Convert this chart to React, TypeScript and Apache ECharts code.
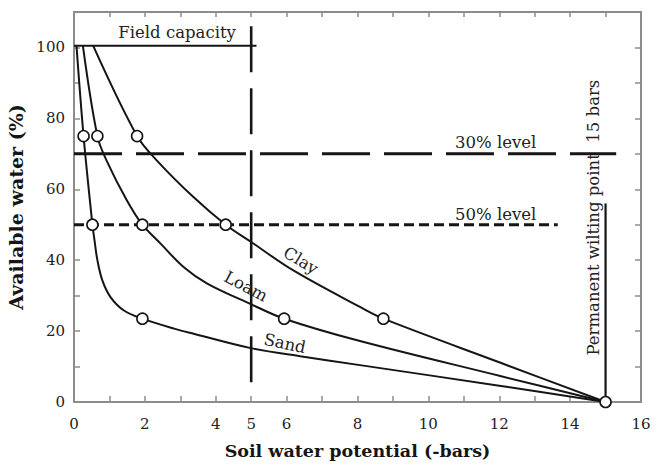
import React, { useEffect, useRef } from "react";
import * as echarts from "echarts";

// ---- data ----
const sandX = [0.07, 0.27, 0.52, 0.58, 0.66, 0.8, 1.03, 1.41, 1.93, 2.82, 3.4, 4.99, 6.38, 8.07, 12.0, 15];
const sandY = [100.5, 75, 50, 45.5, 40, 34.3, 29.6, 25.8, 23.5, 20.7, 19.2, 15.2, 12.9, 10.4, 4.6, 0];

const loamX = [0.25, 0.66, 0.92, 1.49, 1.93, 2.45, 3.1, 3.76, 4.99, 5.93, 8.07, 12.0, 15];
const loamY = [100.5, 75, 68.1, 56.9, 50, 44.6, 38, 33.4, 27.6, 23.5, 17.2, 7.4, 0];

const clayX = [0.54, 1.78, 2.34, 3.37, 4.28, 4.99, 6.19, 8.07, 8.73, 12.0, 15];
const clayY = [100.5, 75, 68.1, 57.8, 50, 45.2, 37.1, 26.8, 23.5, 11.2, 0];

const sandMarkers = [[0.27, 75], [0.52, 50], [1.93, 23.5]];
const loamMarkers = [[0.66, 75], [1.93, 50], [5.93, 23.5]];
const clayMarkers = [[1.78, 75], [4.28, 50], [8.73, 23.5]];
const wiltingMarker = [[15, 0]];

const fieldCapacityLine = [[0, 100.5], [5.15, 100.5]];
const fieldCapacityVertical = [[5, 106], [5, 3.3]];
const level30Line = [[0, 70], [15.3, 70]];
const level50Line = [[0, 50], [13.65, 50]];
const wiltingVertical = [[15, 0], [15, 56]];

const xLabelValues = [0, 2, 4, 5, 6, 8, 10, 12, 14, 16];
const yLabelValues = [0, 20, 40, 60, 80, 100];

const annotationTexts = ["Field capacity", "30% level", "50% level", "Clay", "Loam", "Sand", "Permanent wilting point  15 bars"];
const annotationX = [2.91, 11.9, 11.9, 6.4, 4.85, 5.95, 14.65];
const annotationY = [104.1, 73.2, 52.8, 39.9, 32.6, 16.5, 52];
const annotationRot = [0, 0, 0, -31, -28, -12, 90];

const zip = (xs: number[], ys: number[]) => xs.map((x, i) => [x, ys[i]]);

const SERIF = "'DejaVu Serif', 'Liberation Serif', serif";
const AXIS_GRAY = "#8c8c8c";
const INK = "#151515";

export default function App() {
  const ref = useRef<HTMLDivElement>(null);

  useEffect(() => {
    if (!ref.current) return;
    const chart = echarts.init(ref.current, undefined, { renderer: "svg" });

    const curve = (name: string, xs: number[], ys: number[]) => ({
      name,
      type: "line",
      data: zip(xs, ys),
      smooth: 0.35,
      symbol: "none",
      lineStyle: { color: INK, width: 2 },
      z: 3,
    });
    const refLine = (name: string, data: number[][], type: any, width: number) => ({
      name,
      type: "line",
      data,
      symbol: "none",
      lineStyle: { color: INK, width, type, cap: "butt" },
      z: 2,
    });
    const markers = (name: string, data: number[][]) => ({
      name,
      type: "scatter",
      data,
      symbol: "circle",
      symbolSize: 11,
      itemStyle: { color: "#ffffff", borderColor: INK, borderWidth: 1.6, opacity: 1 },
      z: 5,
    });

    const axisCommon = {
      type: "value",
      splitLine: { show: false },
      axisLine: { show: true, onZero: false, lineStyle: { color: AXIS_GRAY, width: 2 } },
      axisTick: { show: true, inside: true, length: 6, lineStyle: { color: AXIS_GRAY, width: 1.5 } },
    };

    chart.setOption({
      animation: false,
      backgroundColor: "#ffffff",
      grid: { left: 74, right: 27, top: 12, bottom: 65, outerBoundsMode: "none" },
      xAxis: [
        {
          ...axisCommon,
          position: "bottom",
          min: 0,
          max: 16,
          interval: 1,
          name: "Soil water potential (-bars)",
          nameLocation: "middle",
          nameGap: 40,
          nameTextStyle: { fontFamily: SERIF, fontWeight: "bold", fontSize: 17.5, color: INK },
          axisLabel: {
            margin: 14,
            fontFamily: SERIF,
            fontSize: 15,
            color: "#222",
            showMaxLabel: true,
            showMinLabel: true,
            hideOverlap: false,
            formatter: (v: number) => (xLabelValues.includes(v) ? String(v) : ""),
          },
        },
        {
          ...axisCommon,
          position: "top",
          min: 0,
          max: 16,
          interval: 1,
          axisTick: { show: true, inside: true, length: 5, lineStyle: { color: AXIS_GRAY, width: 1.5 } },
          axisLabel: { show: false },
        },
      ],
      yAxis: [
        {
          ...axisCommon,
          position: "left",
          min: 0,
          max: 110,
          interval: 10,
          name: "Available water (%)",
          nameLocation: "middle",
          nameGap: 35,
          nameTextStyle: { fontFamily: SERIF, fontWeight: "bold", fontSize: 19, color: INK },
          axisLabel: {
            margin: 9,
            fontFamily: SERIF,
            fontSize: 15,
            color: "#222",
            formatter: (v: number) => (yLabelValues.includes(v) ? String(v) : ""),
          },
        },
        {
          ...axisCommon,
          position: "right",
          min: 0,
          max: 110,
          interval: 10,
          axisLabel: { show: false },
        },
      ],
      series: [
        refLine("Field capacity", fieldCapacityLine, "solid", 2),
        refLine("Field capacity (5 bars)", fieldCapacityVertical, [46, 16], 2.6),
        refLine("30% level", level30Line, [48, 14], 3),
        refLine("50% level", level50Line, [10, 5], 3),
        refLine("Permanent wilting point", wiltingVertical, "solid", 2.2),
        curve("Sand", sandX, sandY),
        curve("Loam", loamX, loamY),
        curve("Clay", clayX, clayY),
        markers("Sand points", sandMarkers),
        markers("Loam points", loamMarkers),
        markers("Clay points", clayMarkers),
        markers("Wilting point", wiltingMarker),
      ],
    });

    const graphics = annotationTexts.map((t, i) => {
      const p = chart.convertToPixel({ gridIndex: 0 }, [annotationX[i], annotationY[i]]) as number[];
      return {
        type: "text",
        x: p[0],
        y: p[1],
        rotation: (annotationRot[i] * Math.PI) / 180,
        z: 10,
        style: {
          text: t,
          fontFamily: SERIF,
          fontSize: 16.5,
          fill: "#222",
          align: "center",
          verticalAlign: "middle",
        },
      };
    });
    chart.setOption({ graphic: graphics });

    return () => chart.dispose();
  }, []);

  return (
    <div
      ref={ref}
      style={{ position: "fixed", left: 0, top: 0, width: 668, height: 467, background: "#fff" }}
    />
  );
}
